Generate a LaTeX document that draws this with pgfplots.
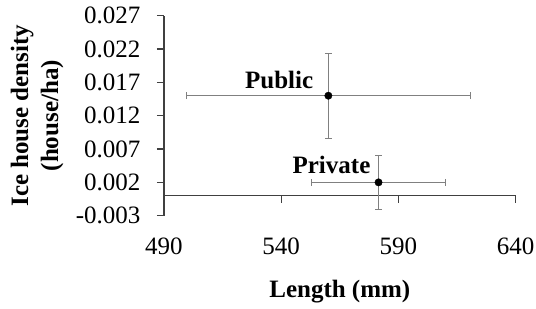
\documentclass[border=0pt]{standalone}
\usepackage{pgfplots}
\pgfplotsset{compat=1.18}
\usepackage{fontspec}
\setmainfont{Liberation Serif}
\begin{document}
\begin{tikzpicture}[font=\fontsize{25bp}{30bp}\selectfont]
\useasboundingbox (-164bp,-93.3bp) rectangle (372bp,215.7bp);
\begin{axis}[
  at={(0,0)}, anchor=south west,
  scale only axis, width=351.7bp, height=200bp,
  xmin=490, xmax=640, ymin=-0.003, ymax=0.027,
  axis x line=middle, axis y line=left,
  hide obscured x ticks=false, hide obscured y ticks=false,
  axis line style={-, draw=black!75, line width=1.2bp},
  xtick={490,540,590,640},
  ytick={-0.003,0.002,0.007,0.012,0.017,0.022,0.027},
  scaled y ticks=false, scaled x ticks=false,
  tick align=outside, major tick length=7bp,
  tick style={draw=black!75, line width=1.2bp},
  /pgf/number format/assume math mode=true,
  yticklabel style={/pgf/number format/fixed, /pgf/number format/precision=3, /pgf/number format/fixed zerofill, xshift=-13bp},
  xticklabel style={/pgf/number format/fixed, /pgf/number format/1000 sep={}, yshift=-31.5bp},
  tick label style={font=\fontsize{25bp}{30bp}\selectfont},
  xlabel={Length (mm)}, ylabel={Ice house density\\(house/ha)},
  label style={font=\fontsize{25bp}{30bp}\selectfont\bfseries},
  xlabel style={at={(axis description cs:0.5,-0.38)}, anchor=center},
  ylabel style={at={(axis description cs:-0.361,0.5)}, anchor=center, rotate=0, align=center},
  clip=false,
]
\addplot[only marks, mark=*, mark size=3.7bp, black,
  error bars/.cd, x dir=both, x explicit, y dir=both, y explicit,
  error bar style={color=gray, line width=1bp},
  error mark options={rotate=90, mark size=3.5bp, color=gray, line width=1bp}]
  coordinates {
  (560.1,0.015) +- (60.5,0.00638)
  (581.5,0.002) +- (28.7,0.0040)
};
\node[anchor=east, font=\fontsize{25bp}{30bp}\selectfont\bfseries, inner sep=0pt] at (axis cs:560.1,0.015) [xshift=-15bp, yshift=16bp] {Public};
\node[anchor=east, font=\fontsize{25bp}{30bp}\selectfont\bfseries, inner sep=0pt] at (axis cs:581.5,0.002) [xshift=-8bp, yshift=17bp] {Private};
\end{axis}
\end{tikzpicture}
\end{document}
